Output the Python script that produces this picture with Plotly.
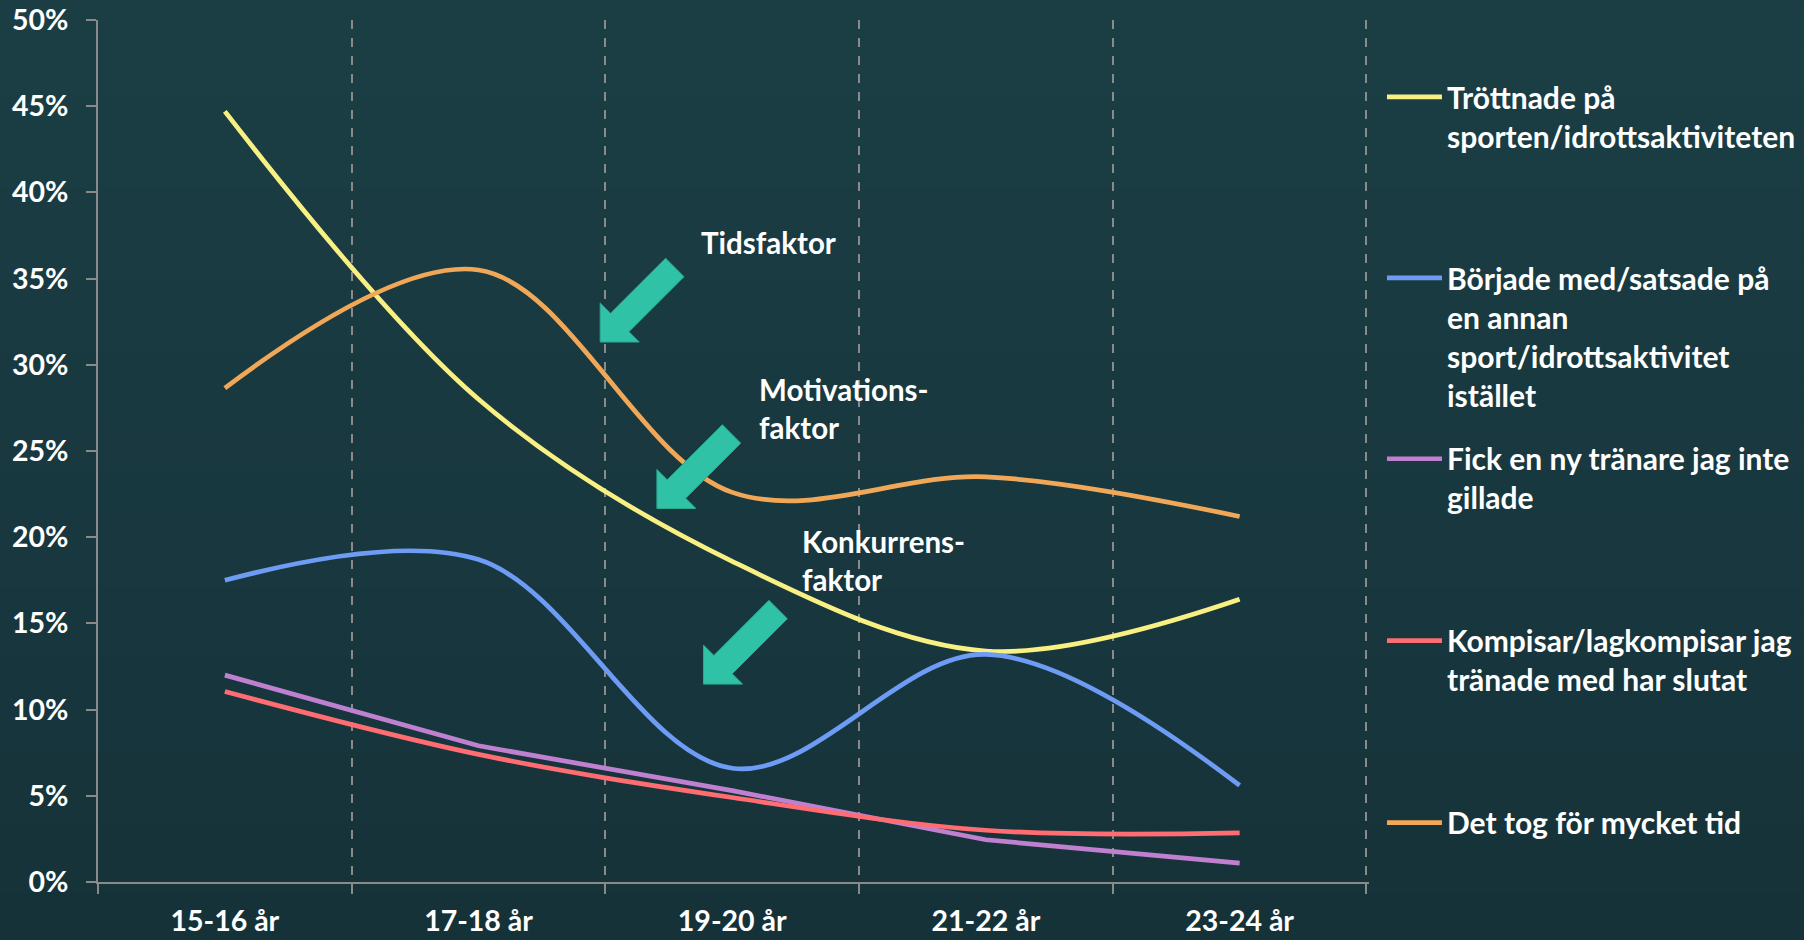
import plotly.graph_objects as go
import math

# ---------------- data ----------------
categories = ['15-16 år', '17-18 år', '19-20 år', '21-22 år', '23-24 år']
trottnade = [44.7, 28.0, 18.6, 13.4, 16.4]
borjade = [17.5, 18.7, 6.6, 13.2, 5.6]
fick_ny = [12.0, 7.9, 5.3, 2.45, 1.1]
kompisar = [11.05, 7.4, 4.9, 3.0, 2.85]
tog_tid = [28.65, 35.5, 22.6, 23.5, 21.2]

series_names = [
    'Tröttnade på<br>sporten/idrottsaktiviteten',
    'Började med/satsade på<br>en annan<br>sport/idrottsaktivitet<br>istället',
    'Fick en ny tränare jag inte<br>gillade',
    'Kompisar/lagkompisar jag<br>tränade med har slutat',
    'Det tog för mycket tid',
]
series_values = [trottnade, borjade, fick_ny, kompisar, tog_tid]
series_colors = ['#F8F083', '#6E9CF5', '#C080D0', '#FF6C72', '#F0A858']
series_shapes = ['spline', 'spline', 'linear', 'spline', 'spline']

annotation_texts = ['Tidsfaktor', 'Motivations-<br>faktor', 'Konkurrens-<br>faktor']

# ---------------- layout geometry (pixels) ----------------
W, H = 1804, 940
X_RANGE = [-0.5, 4.51]
L, T, B = 98, 19.5, 882
CAT_W = 253.6
R = L + CAT_W * (X_RANGE[1] - X_RANGE[0])


def fx(p):
    return (p - L) / (R - L)


def fy(p):
    return (B - p) / (B - T)


FONT = 'Lato'
WHITE = '#FFFFFF'
GRAY = '#8A8A8A'

fig = go.Figure()

legend_sym_y = [97, 278, 459, 641, 823]
legend_keys = ['legend', 'legend2', 'legend3', 'legend4', 'legend5']

for name, vals, col, shp, lk in zip(series_names, series_values, series_colors,
                                    series_shapes, legend_keys):
    fig.add_trace(go.Scatter(
        x=categories, y=vals, name=name, mode='lines',
        line=dict(color=col, width=4.7, shape=shp, smoothing=1.0),
        legend=lk,
    ))

# ---------------- background gradient ----------------
top_rgb = (27, 62, 69)
bot_rgb = (22, 50, 57)
N = 40
shapes = []
for i in range(N):
    t = (i + 0.5) / N
    c = tuple(round(top_rgb[k] + (bot_rgb[k] - top_rgb[k]) * t) for k in range(3))
    shapes.append(dict(
        type='rect', xref='paper', yref='paper', layer='below',
        x0=fx(0), x1=fx(W), y0=fy(H * i / N), y1=fy(H * (i + 1) / N + 1),
        line=dict(width=0), fillcolor='rgb(%d,%d,%d)' % c,
    ))

# ---------------- block arrows ----------------
arrow_tips = [(600, 341.7), (656.7, 508.3), (703.3, 684)]
Ltot, hl, hw, sw = 105.5, 27.6, 27.6, 13.0
ux, uy = 1 / math.sqrt(2), -1 / math.sqrt(2)
vx, vy = 1 / math.sqrt(2), 1 / math.sqrt(2)
for tx, ty in arrow_tips:
    pts = [
        (tx, ty),
        (tx + hl * ux + hw * vx, ty + hl * uy + hw * vy),
        (tx + hl * ux + sw * vx, ty + hl * uy + sw * vy),
        (tx + Ltot * ux + sw * vx, ty + Ltot * uy + sw * vy),
        (tx + Ltot * ux - sw * vx, ty + Ltot * uy - sw * vy),
        (tx + hl * ux - sw * vx, ty + hl * uy - sw * vy),
        (tx + hl * ux - hw * vx, ty + hl * uy - hw * vy),
    ]
    path = 'M ' + ' L '.join('%.5f,%.5f' % (fx(px), fy(py)) for px, py in pts) + ' Z'
    shapes.append(dict(type='path', xref='paper', yref='paper', path=path,
                       fillcolor='#30C2A6', line=dict(color='#2AAA90', width=1),
                       layer='above'))

# ---------------- annotations ----------------
ann_pos = [(699, 242), (757, 408.5), (800, 560)]
annotations = []
for txt, (px, py) in zip(annotation_texts, ann_pos):
    annotations.append(dict(
        text=txt, x=fx(px), y=fy(py), xref='paper', yref='paper',
        xanchor='left', yanchor='middle', align='left', showarrow=False,
        font=dict(family=FONT, size=29.5, color=WHITE, weight='bold'),
    ))

layout_legends = {}
for lk, sy in zip(legend_keys, legend_sym_y):
    layout_legends[lk] = dict(
        x=fx(1381.5), xanchor='left', y=fy(sy - 26.5), yanchor='top',
        valign='top', bgcolor='rgba(0,0,0,0)', borderwidth=0,
        itemwidth=55, tracegroupgap=0,
        font=dict(family=FONT, size=30, color=WHITE, weight='bold'),
    )

fig.update_layout(
    width=W, height=H,
    margin=dict(l=L, r=W - R, t=T, b=H - B, pad=0, autoexpand=False),
    paper_bgcolor='rgb(24,56,63)',
    plot_bgcolor='rgba(0,0,0,0)',
    showlegend=True,
    shapes=shapes,
    annotations=annotations,
    **layout_legends,
    xaxis=dict(
        type='category', categoryorder='array', categoryarray=categories,
        range=X_RANGE, tickson='boundaries', ticks='outside', ticklen=10,
        tickcolor=GRAY, tickwidth=1.5,
        showgrid=True, gridcolor=GRAY, griddash='dash', gridwidth=1.5,
        showline=True, linecolor=GRAY, linewidth=2,
        tickfont=dict(family=FONT, size=28.5, color=WHITE, weight='bold'),
        ticklabelstandoff=13, zeroline=False, automargin=False,
    ),
    yaxis=dict(
        range=[0, 50], dtick=5, tick0=0, ticksuffix='%',
        ticks='outside', ticklen=10, tickcolor=GRAY, tickwidth=1.5,
        showgrid=False, zeroline=False,
        showline=True, linecolor=GRAY, linewidth=2,
        tickfont=dict(family=FONT, size=28.5, color=WHITE, weight='bold'),
        ticklabelstandoff=12, automargin=False,
    ),
)

fig.write_html('out.html',
               config={'displayModeBar': False},
               post_script="document.body.style.margin='0';"
                           "document.body.style.overflow='hidden';")
